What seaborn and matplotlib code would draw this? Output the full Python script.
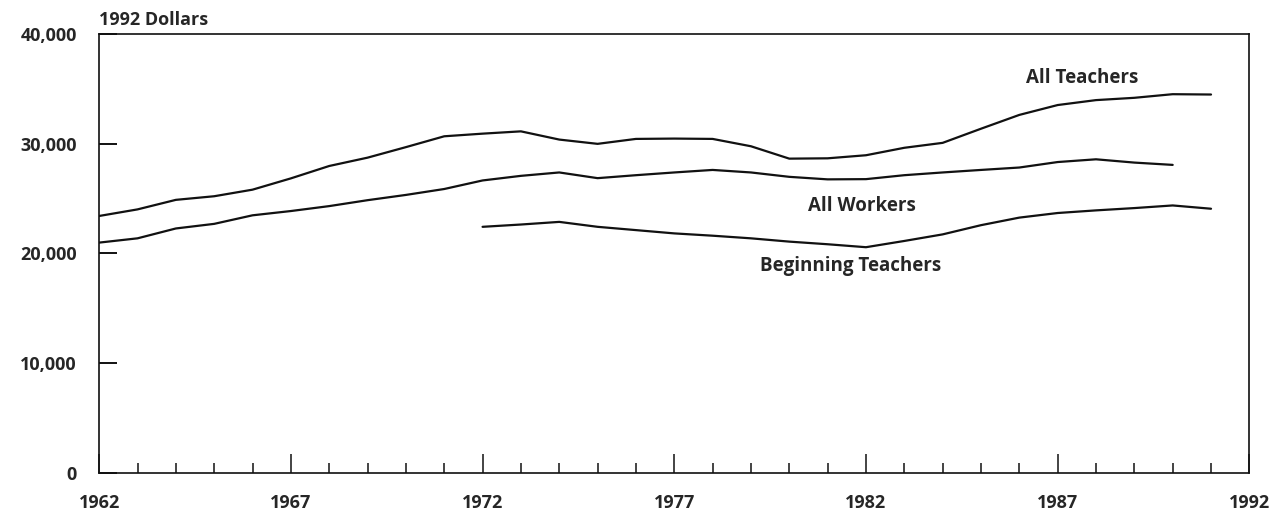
#!/usr/bin/env python3
import matplotlib.pyplot as plt
import matplotlib.ticker as mticker
import pandas as pd
import seaborn as sns

# Yillik maas verisi (1992 dolari), grafikten okunan yaklasik degerler
teacher_years = list(range(1962, 1992))
all_teachers = [23420, 24020, 24890, 25220, 25820, 26850, 27980, 28740, 29700, 30690,
                30930, 31140, 30390, 30000, 30450, 30480, 30450, 29780, 28650, 28680,
                28960, 29640, 30090, 31380, 32640, 33540, 33990, 34200, 34530, 34500]

worker_years = list(range(1962, 1991))
all_workers = [20990, 21380, 22280, 22700, 23480, 23870, 24320, 24860, 25340, 25880,
               26660, 27080, 27390, 26870, 27140, 27390, 27620, 27390, 26990, 26760,
               26780, 27140, 27390, 27620, 27840, 28340, 28590, 28290, 28080]

beginning_years = list(range(1972, 1992))
beginning_teachers = [22430, 22640, 22880, 22430, 22130, 21830, 21620, 21380, 21080, 20840,
                      20570, 21140, 21740, 22580, 23270, 23690, 23930, 24140, 24380, 24080]

series_labels = ["All Teachers", "All Workers", "Beginning Teachers"]
y_ticks = [0, 10000, 20000, 30000, 40000]
x_major = list(range(1962, 1993, 5))

df = pd.concat([
    pd.DataFrame({"Year": teacher_years, "Salary": all_teachers, "Series": series_labels[0]}),
    pd.DataFrame({"Year": worker_years, "Salary": all_workers, "Series": series_labels[1]}),
    pd.DataFrame({"Year": beginning_years, "Salary": beginning_teachers, "Series": series_labels[2]}),
])

sns.set_style("white")
plt.rcParams["font.family"] = ["Open Sans", "DejaVu Sans"]
plt.rcParams["font.weight"] = "bold"

fig = plt.figure(figsize=(12.88, 5.11), dpi=100)
ax = fig.add_axes([0.077, 0.075, 0.893, 0.858])

sns.lineplot(data=df, x="Year", y="Salary", units="Series", estimator=None,
             color="#111111", linewidth=1.6, ax=ax, legend=False)

ax.set_xlim(1962, 1992)
ax.set_ylim(0, 40000)
ax.set_xticks(x_major)
ax.xaxis.set_minor_locator(mticker.MultipleLocator(1))
ax.set_yticks(y_ticks)
ax.yaxis.set_major_formatter(mticker.FuncFormatter(lambda v, p: f"{int(v):,}"))

# seaborn "white" stili tick'leri kapatiyor, geri ac
ax.tick_params(which="both", bottom=True, left=True, top=False, right=False)
ax.tick_params(axis="x", which="major", direction="in", length=13.5, width=1.1,
               color="#111111", labelsize=13, pad=15)
ax.tick_params(axis="x", which="minor", direction="in", length=7, width=1.1, color="#111111")
ax.tick_params(axis="y", which="major", direction="in", length=13, width=1.4,
               color="#111111", labelsize=13, pad=16)

for s in ax.spines.values():
    s.set_visible(True)
    s.set_color("#111111")
    s.set_linewidth(1.2)

ax.set_xlabel("")
ax.set_ylabel("")

# seri etiketleri
ax.text(1987.65, 35970, series_labels[0], ha="center", va="center", fontsize=13.5)
ax.text(1981.9, 24350, series_labels[1], ha="center", va="center", fontsize=13.5)
ax.text(1981.6, 18860, series_labels[2], ha="center", va="center", fontsize=13.5)

ax.text(0.0, 1.012, "1992 Dollars", transform=ax.transAxes, ha="left", va="bottom",
        fontsize=13)

fig.savefig("out.png", dpi=100, facecolor="white")
